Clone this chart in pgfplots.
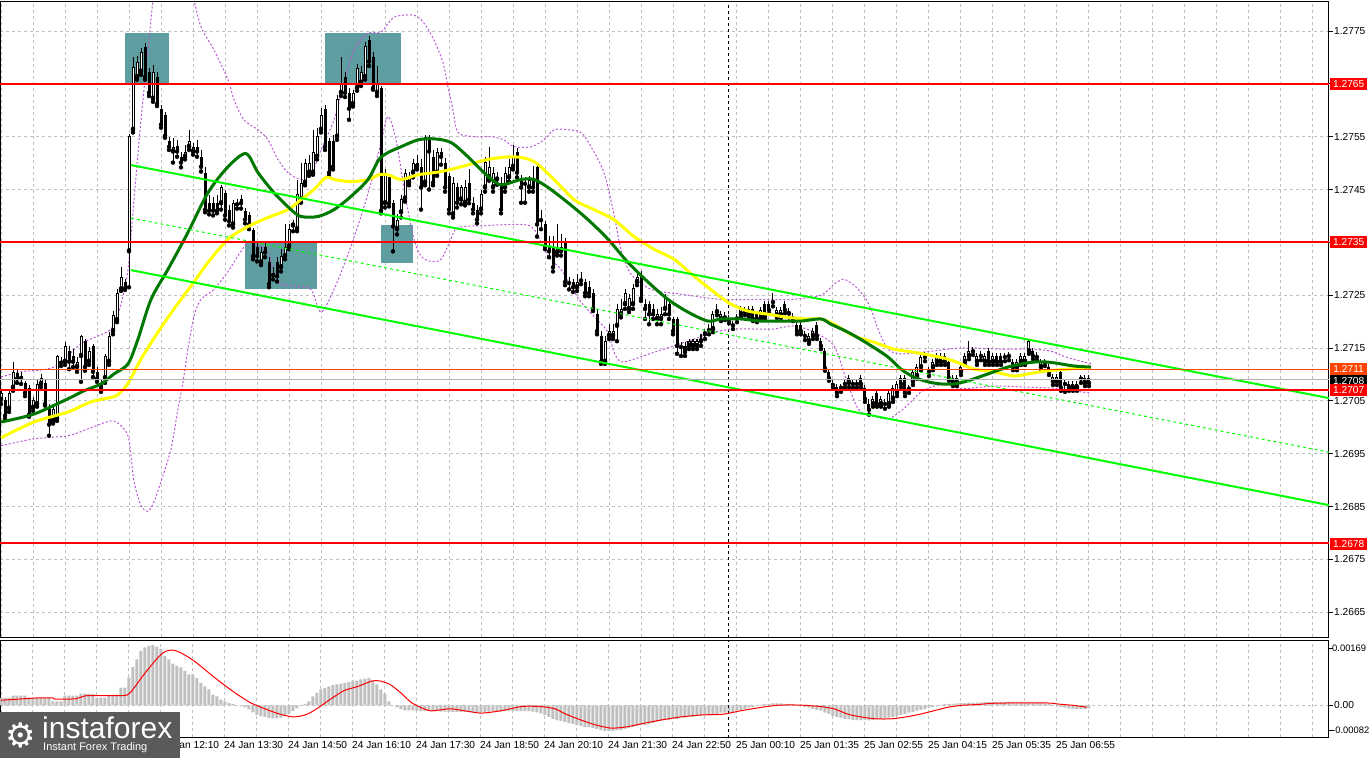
\documentclass[border=0pt]{standalone}
\usepackage{fontspec}
\setmainfont{Liberation Sans}
\newfontfamily\dejavu{DejaVu Sans}
\usepackage{pgfplots}
\usepackage{pgfplotstable}
\pgfplotsset{compat=1.18}
\definecolor{maG}{HTML}{007800}
\definecolor{maY}{HTML}{FFFF00}
\definecolor{chG}{HTML}{00FF00}
\definecolor{bbP}{HTML}{BA55D3}
\definecolor{tealbox}{HTML}{5F9EA0}
\definecolor{gridc}{HTML}{C0C0C0}
\definecolor{orng}{HTML}{FF4500}
\definecolor{histc}{HTML}{C0C0C0}
\definecolor{logog}{HTML}{5A5A5A}

\pgfplotstableread{
i o h l c
0 1.27052 1.27073 1.27044 1.27065
1 1.27052 1.27058 1.27016 1.27022
2 1.27035 1.27073 1.27029 1.27065
3 1.27075 1.27124 1.27069 1.27105
4 1.27103 1.27108 1.27084 1.27092
5 1.27097 1.27105 1.27082 1.27093
6 1.27084 1.27088 1.27059 1.27065
7 1.27075 1.27080 1.27020 1.27024
8 1.27037 1.27058 1.27031 1.27052
9 1.27044 1.27092 1.27039 1.27082
10 1.27082 1.27101 1.27076 1.27093
11 1.27084 1.27092 1.27041 1.27044
12 1.27035 1.27044 1.26984 1.27005
13 1.27012 1.27041 1.27007 1.27035
14 1.27016 1.27137 1.27012 1.27135
15 1.27122 1.27133 1.27116 1.27125
16 1.27124 1.27161 1.27118 1.27154
17 1.27144 1.27154 1.27110 1.27124
18 1.27135 1.27148 1.27114 1.27124
19 1.27114 1.27133 1.27105 1.27124
20 1.27135 1.27175 1.27086 1.27173
21 1.27163 1.27167 1.27107 1.27114
22 1.27124 1.27152 1.27118 1.27144
23 1.27154 1.27158 1.27095 1.27105
24 1.27105 1.27114 1.27086 1.27092
25 1.27084 1.27092 1.27067 1.27075
26 1.27093 1.27139 1.27084 1.27135
27 1.27124 1.27180 1.27118 1.27173
28 1.27182 1.27220 1.27176 1.27212
29 1.27203 1.27261 1.27199 1.27254
30 1.27261 1.27303 1.27258 1.27284
31 1.27275 1.27280 1.27260 1.27263
32 1.27333 1.27556 1.27265 1.27552
33 1.27563 1.27701 1.27558 1.27682
34 1.27663 1.27703 1.27658 1.27692
35 1.27673 1.27718 1.27667 1.27710
36 1.27720 1.27727 1.27658 1.27663
37 1.27673 1.27680 1.27627 1.27633
38 1.27622 1.27686 1.27616 1.27673
39 1.27663 1.27673 1.27608 1.27612
40 1.27603 1.27610 1.27567 1.27573
41 1.27592 1.27597 1.27548 1.27552
42 1.27542 1.27550 1.27525 1.27531
43 1.27522 1.27548 1.27501 1.27531
44 1.27533 1.27544 1.27512 1.27522
45 1.27512 1.27522 1.27492 1.27501
46 1.27512 1.27535 1.27507 1.27522
47 1.27531 1.27563 1.27525 1.27541
48 1.27522 1.27539 1.27516 1.27531
49 1.27531 1.27544 1.27512 1.27522
50 1.27512 1.27525 1.27484 1.27493
51 1.27482 1.27492 1.27407 1.27412
52 1.27424 1.27439 1.27403 1.27410
53 1.27424 1.27435 1.27401 1.27410
54 1.27424 1.27439 1.27405 1.27410
55 1.27424 1.27459 1.27412 1.27454
56 1.27444 1.27450 1.27393 1.27401
57 1.27412 1.27420 1.27382 1.27390
58 1.27384 1.27431 1.27378 1.27424
59 1.27422 1.27433 1.27414 1.27425
60 1.27433 1.27439 1.27414 1.27424
61 1.27410 1.27416 1.27386 1.27393
62 1.27401 1.27408 1.27375 1.27384
63 1.27373 1.27378 1.27318 1.27324
64 1.27342 1.27352 1.27314 1.27324
65 1.27312 1.27342 1.27307 1.27331
66 1.27342 1.27350 1.27322 1.27331
67 1.27312 1.27322 1.27265 1.27271
68 1.27292 1.27303 1.27280 1.27288
69 1.27312 1.27322 1.27276 1.27286
70 1.27303 1.27337 1.27295 1.27324
71 1.27324 1.27384 1.27318 1.27342
72 1.27342 1.27384 1.27337 1.27375
73 1.27382 1.27393 1.27371 1.27386
74 1.27375 1.27469 1.27371 1.27441
75 1.27431 1.27501 1.27425 1.27463
76 1.27463 1.27507 1.27458 1.27501
77 1.27482 1.27516 1.27476 1.27501
78 1.27482 1.27563 1.27478 1.27522
79 1.27512 1.27567 1.27507 1.27552
80 1.27563 1.27605 1.27558 1.27592
81 1.27603 1.27610 1.27525 1.27531
82 1.27541 1.27548 1.27476 1.27482
83 1.27541 1.27554 1.27488 1.27493
84 1.27550 1.27629 1.27544 1.27622
85 1.27633 1.27701 1.27627 1.27652
86 1.27663 1.27673 1.27625 1.27633
87 1.27633 1.27642 1.27582 1.27603
88 1.27612 1.27639 1.27607 1.27633
89 1.27642 1.27688 1.27637 1.27680
90 1.27652 1.27684 1.27646 1.27673
91 1.27663 1.27729 1.27658 1.27722
92 1.27733 1.27741 1.27684 1.27692
93 1.27701 1.27710 1.27639 1.27642
94 1.27633 1.27684 1.27627 1.27652
95 1.27642 1.27646 1.27405 1.27410
96 1.27424 1.27488 1.27416 1.27482
97 1.27473 1.27478 1.27418 1.27424
98 1.27424 1.27431 1.27333 1.27380
99 1.27375 1.27403 1.27365 1.27393
100 1.27407 1.27439 1.27397 1.27433
101 1.27433 1.27488 1.27427 1.27482
102 1.27463 1.27484 1.27458 1.27473
103 1.27482 1.27507 1.27473 1.27501
104 1.27493 1.27516 1.27488 1.27501
105 1.27493 1.27507 1.27412 1.27454
106 1.27463 1.27554 1.27458 1.27550
107 1.27550 1.27554 1.27450 1.27522
108 1.27512 1.27525 1.27458 1.27463
109 1.27482 1.27529 1.27476 1.27522
110 1.27522 1.27529 1.27497 1.27512
111 1.27501 1.27510 1.27446 1.27454
112 1.27475 1.27482 1.27405 1.27412
113 1.27403 1.27473 1.27397 1.27463
114 1.27454 1.27463 1.27416 1.27425
115 1.27431 1.27459 1.27422 1.27454
116 1.27425 1.27469 1.27420 1.27454
117 1.27463 1.27488 1.27424 1.27431
118 1.27425 1.27435 1.27405 1.27412
119 1.27412 1.27420 1.27386 1.27393
120 1.27412 1.27450 1.27405 1.27441
121 1.27454 1.27512 1.27446 1.27503
122 1.27473 1.27531 1.27467 1.27493
123 1.27454 1.27492 1.27446 1.27482
124 1.27469 1.27484 1.27459 1.27473
125 1.27463 1.27473 1.27405 1.27412
126 1.27454 1.27492 1.27446 1.27482
127 1.27473 1.27507 1.27465 1.27493
128 1.27493 1.27535 1.27488 1.27512
129 1.27522 1.27529 1.27473 1.27482
130 1.27469 1.27478 1.27425 1.27454
131 1.27461 1.27473 1.27425 1.27463
132 1.27454 1.27476 1.27446 1.27469
133 1.27469 1.27495 1.27446 1.27454
134 1.27493 1.27501 1.27361 1.27384
135 1.27395 1.27412 1.27375 1.27392
136 1.27384 1.27390 1.27337 1.27342
137 1.27342 1.27363 1.27322 1.27333
138 1.27342 1.27363 1.27295 1.27303
139 1.27331 1.27384 1.27325 1.27342
140 1.27333 1.27365 1.27325 1.27342
141 1.27352 1.27359 1.27269 1.27275
142 1.27275 1.27284 1.27261 1.27273
143 1.27275 1.27280 1.27256 1.27265
144 1.27265 1.27290 1.27258 1.27275
145 1.27278 1.27293 1.27271 1.27280
146 1.27275 1.27280 1.27248 1.27254
147 1.27265 1.27276 1.27248 1.27254
148 1.27254 1.27261 1.27220 1.27224
149 1.27214 1.27224 1.27176 1.27182
150 1.27173 1.27182 1.27120 1.27124
151 1.27124 1.27173 1.27120 1.27163
152 1.27173 1.27195 1.27167 1.27182
153 1.27173 1.27195 1.27167 1.27182
154 1.27192 1.27233 1.27163 1.27224
155 1.27214 1.27242 1.27208 1.27224
156 1.27233 1.27261 1.27224 1.27254
157 1.27224 1.27252 1.27218 1.27244
158 1.27233 1.27271 1.27224 1.27263
159 1.27275 1.27293 1.27269 1.27284
160 1.27284 1.27295 1.27239 1.27244
161 1.27233 1.27242 1.27205 1.27224
162 1.27233 1.27239 1.27195 1.27214
163 1.27224 1.27233 1.27205 1.27214
164 1.27205 1.27224 1.27195 1.27214
165 1.27205 1.27227 1.27195 1.27214
166 1.27224 1.27252 1.27214 1.27244
167 1.27233 1.27242 1.27205 1.27214
168 1.27205 1.27208 1.27176 1.27182
169 1.27205 1.27208 1.27139 1.27154
170 1.27154 1.27161 1.27135 1.27152
171 1.27154 1.27161 1.27135 1.27142
172 1.27154 1.27167 1.27148 1.27163
173 1.27154 1.27167 1.27148 1.27163
174 1.27154 1.27167 1.27148 1.27163
175 1.27163 1.27176 1.27154 1.27167
176 1.27176 1.27186 1.27167 1.27180
177 1.27184 1.27195 1.27176 1.27186
178 1.27186 1.27220 1.27180 1.27214
179 1.27218 1.27233 1.27212 1.27222
180 1.27205 1.27220 1.27201 1.27214
181 1.27208 1.27218 1.27203 1.27210
182 1.27205 1.27212 1.27197 1.27203
183 1.27193 1.27201 1.27186 1.27192
184 1.27206 1.27214 1.27199 1.27208
185 1.27214 1.27230 1.27208 1.27224
186 1.27218 1.27227 1.27212 1.27220
187 1.27224 1.27230 1.27208 1.27214
188 1.27224 1.27230 1.27201 1.27205
189 1.27214 1.27220 1.27199 1.27205
190 1.27208 1.27227 1.27203 1.27222
191 1.27233 1.27239 1.27205 1.27210
192 1.27233 1.27239 1.27216 1.27222
193 1.27237 1.27254 1.27229 1.27239
194 1.27212 1.27227 1.27207 1.27222
195 1.27212 1.27227 1.27207 1.27222
196 1.27233 1.27239 1.27216 1.27222
197 1.27220 1.27226 1.27208 1.27216
198 1.27208 1.27216 1.27201 1.27206
199 1.27193 1.27199 1.27176 1.27182
200 1.27193 1.27199 1.27176 1.27182
201 1.27173 1.27182 1.27165 1.27175
202 1.27163 1.27178 1.27158 1.27173
203 1.27173 1.27188 1.27167 1.27182
204 1.27193 1.27199 1.27167 1.27173
205 1.27163 1.27169 1.27148 1.27154
206 1.27144 1.27150 1.27107 1.27112
207 1.27105 1.27110 1.27088 1.27093
208 1.27084 1.27092 1.27075 1.27080
209 1.27076 1.27082 1.27059 1.27065
210 1.27075 1.27082 1.27067 1.27076
211 1.27082 1.27092 1.27075 1.27084
212 1.27084 1.27099 1.27076 1.27093
213 1.27084 1.27092 1.27075 1.27082
214 1.27082 1.27092 1.27075 1.27084
215 1.27093 1.27099 1.27076 1.27082
216 1.27075 1.27080 1.27048 1.27054
217 1.27044 1.27054 1.27024 1.27033
218 1.27044 1.27059 1.27039 1.27054
219 1.27065 1.27071 1.27039 1.27044
220 1.27044 1.27059 1.27039 1.27054
221 1.27044 1.27054 1.27035 1.27046
222 1.27044 1.27071 1.27039 1.27065
223 1.27054 1.27080 1.27048 1.27075
224 1.27065 1.27088 1.27059 1.27082
225 1.27093 1.27099 1.27076 1.27082
226 1.27093 1.27099 1.27059 1.27065
227 1.27073 1.27080 1.27065 1.27075
228 1.27086 1.27110 1.27080 1.27105
229 1.27097 1.27120 1.27092 1.27114
230 1.27114 1.27139 1.27108 1.27133
231 1.27135 1.27142 1.27125 1.27133
232 1.27107 1.27114 1.27097 1.27105
233 1.27114 1.27129 1.27108 1.27124
234 1.27124 1.27141 1.27118 1.27135
235 1.27135 1.27141 1.27118 1.27124
236 1.27135 1.27141 1.27118 1.27124
237 1.27124 1.27129 1.27088 1.27093
238 1.27084 1.27099 1.27078 1.27093
239 1.27084 1.27099 1.27078 1.27093
240 1.27105 1.27120 1.27099 1.27114
241 1.27124 1.27141 1.27118 1.27135
242 1.27135 1.27163 1.27129 1.27144
243 1.27144 1.27152 1.27137 1.27146
244 1.27124 1.27141 1.27118 1.27135
245 1.27135 1.27144 1.27127 1.27137
246 1.27124 1.27141 1.27118 1.27135
247 1.27144 1.27150 1.27118 1.27124
248 1.27124 1.27141 1.27118 1.27135
249 1.27135 1.27141 1.27118 1.27124
250 1.27135 1.27141 1.27118 1.27124
251 1.27133 1.27141 1.27125 1.27135
252 1.27135 1.27142 1.27127 1.27137
253 1.27124 1.27129 1.27108 1.27114
254 1.27114 1.27129 1.27108 1.27124
255 1.27124 1.27141 1.27118 1.27135
256 1.27124 1.27141 1.27118 1.27135
257 1.27144 1.27167 1.27139 1.27163
258 1.27144 1.27150 1.27129 1.27135
259 1.27135 1.27142 1.27127 1.27133
260 1.27114 1.27129 1.27108 1.27124
261 1.27122 1.27129 1.27116 1.27124
262 1.27114 1.27120 1.27099 1.27105
263 1.27086 1.27101 1.27080 1.27095
264 1.27086 1.27101 1.27080 1.27095
265 1.27105 1.27110 1.27069 1.27075
266 1.27082 1.27090 1.27067 1.27084
267 1.27075 1.27088 1.27069 1.27082
268 1.27075 1.27088 1.27069 1.27082
269 1.27075 1.27088 1.27069 1.27082
270 1.27092 1.27099 1.27084 1.27093
271 1.27084 1.27099 1.27078 1.27093
272 1.27093 1.27099 1.27078 1.27084
}\candles

\pgfplotstableread{
i m
0 0.00019
1 0.00019
2 0.00019
3 0.00025
4 0.00025
5 0.00025
6 0.00025
7 0.00020
8 0.00020
9 0.00020
10 0.00020
11 0.00020
12 0.00020
13 0.00010
14 0.00010
15 0.00010
16 0.00025
17 0.00025
18 0.00025
19 0.00025
20 0.00030
21 0.00030
22 0.00030
23 0.00030
24 0.00020
25 0.00020
26 0.00020
27 0.00025
28 0.00028
29 0.00028
30 0.00046
31 0.00046
32 0.00072
33 0.00099
34 0.00119
35 0.00141
36 0.00150
37 0.00154
38 0.00156
39 0.00152
40 0.00146
41 0.00128
42 0.00119
43 0.00108
44 0.00102
45 0.00098
46 0.00089
47 0.00080
48 0.00080
49 0.00071
50 0.00058
51 0.00049
52 0.00041
53 0.00028
54 0.00023
55 0.00015
56 0.00010
57 0.00006
58 0.00003
59 0.00000
60 -0.00002
61 -0.00005
62 -0.00010
63 -0.00018
64 -0.00025
65 -0.00028
66 -0.00030
67 -0.00033
68 -0.00034
69 -0.00034
70 -0.00032
71 -0.00028
72 -0.00022
73 -0.00015
74 -0.00008
75 -0.00002
76 0.00004
77 0.00010
78 0.00023
79 0.00032
80 0.00041
81 0.00045
82 0.00049
83 0.00052
84 0.00054
85 0.00056
86 0.00058
87 0.00060
88 0.00063
89 0.00064
90 0.00067
91 0.00069
92 0.00071
93 0.00063
94 0.00054
95 0.00041
96 0.00030
97 0.00010
98 0.00000
99 -0.00005
100 -0.00010
101 -0.00013
102 -0.00013
103 -0.00013
104 -0.00014
105 -0.00015
106 -0.00015
107 -0.00015
108 -0.00015
109 -0.00015
110 -0.00016
111 -0.00016
112 -0.00017
113 -0.00017
114 -0.00017
115 -0.00017
116 -0.00017
117 -0.00017
118 -0.00017
119 -0.00018
120 -0.00018
121 -0.00017
122 -0.00016
123 -0.00016
124 -0.00016
125 -0.00016
126 -0.00015
127 -0.00015
128 -0.00015
129 -0.00015
130 -0.00015
131 -0.00015
132 -0.00015
133 -0.00016
134 -0.00018
135 -0.00021
136 -0.00025
137 -0.00030
138 -0.00035
139 -0.00038
140 -0.00040
141 -0.00043
142 -0.00046
143 -0.00048
144 -0.00051
145 -0.00053
146 -0.00056
147 -0.00056
148 -0.00059
149 -0.00061
150 -0.00064
151 -0.00066
152 -0.00066
153 -0.00066
154 -0.00064
155 -0.00064
156 -0.00061
157 -0.00059
158 -0.00056
159 -0.00053
160 -0.00051
161 -0.00051
162 -0.00048
163 -0.00046
164 -0.00043
165 -0.00040
166 -0.00038
167 -0.00038
168 -0.00035
169 -0.00035
170 -0.00032
171 -0.00032
172 -0.00030
173 -0.00030
174 -0.00027
175 -0.00027
176 -0.00025
177 -0.00025
178 -0.00022
179 -0.00022
180 -0.00019
181 -0.00019
182 -0.00017
183 -0.00017
184 -0.00014
185 -0.00012
186 -0.00009
187 -0.00006
188 -0.00004
189 -0.00001
190 0.00002
191 0.00003
192 0.00004
193 0.00005
194 0.00005
195 0.00005
196 0.00004
197 0.00003
198 0.00002
199 0.00000
200 -0.00001
201 -0.00004
202 -0.00006
203 -0.00009
204 -0.00012
205 -0.00014
206 -0.00019
207 -0.00022
208 -0.00027
209 -0.00030
210 -0.00032
211 -0.00035
212 -0.00036
213 -0.00038
214 -0.00038
215 -0.00038
216 -0.00038
217 -0.00039
218 -0.00038
219 -0.00036
220 -0.00035
221 -0.00034
222 -0.00032
223 -0.00030
224 -0.00027
225 -0.00025
226 -0.00022
227 -0.00019
228 -0.00017
229 -0.00014
230 -0.00012
231 -0.00009
232 -0.00006
233 -0.00004
234 -0.00001
235 0.00002
236 0.00003
237 0.00003
238 0.00004
239 0.00005
240 0.00006
241 0.00006
242 0.00007
243 0.00007
244 0.00007
245 0.00007
246 0.00008
247 0.00008
248 0.00008
249 0.00008
250 0.00008
251 0.00008
252 0.00008
253 0.00007
254 0.00007
255 0.00007
256 0.00007
257 0.00007
258 0.00006
259 0.00006
260 0.00006
261 0.00005
262 0.00004
263 0.00002
264 -0.00001
265 -0.00004
266 -0.00006
267 -0.00008
268 -0.00009
269 -0.00009
270 -0.00009
271 -0.00009
272 -0.00008
}\macdhist

\begin{document}
\begin{tikzpicture}[font=\fontsize{10.2}{12}\selectfont]
\useasboundingbox (0,0) rectangle (1370pt,-758pt);
\begin{axis}[
  at={(0pt,-2pt)}, anchor=north west,
  scale only axis, width=1329pt, height=635pt,
  xmin=-0.25, xmax=332, ymin=1.26603, ymax=1.27805,
  clip mode=individual,
  axis line style={black, line width=1pt},
  xtick={0,8,...,328}, xticklabels={}, xtick style={draw=none},
  ytick={1.2665,1.2675,1.2685,1.2695,1.2705,1.2715,1.2725,1.2735,1.2745,1.2755,1.2765,1.2775},
  yticklabels={1.2665,1.2675,1.2685,1.2695,1.2705,1.2715,1.2725,1.2735,1.2745,1.2755,1.2765,1.2775},
  ytick pos=right, yticklabel pos=right,
  tick align=outside, major tick length=4pt,
  ytick style={black, line width=0.8pt},
  tick label style={font=\fontsize{10.2}{12}\selectfont, inner sep=1pt},
  xmajorgrids, ymajorgrids,
  grid style={gridc, dash pattern=on 3pt off 3pt, line width=1pt},
  scaled y ticks=false,
]
% teal zones
\addplot[fill=tealbox, draw=none, forget plot] coordinates {(31.0,1.27746) (42.0,1.27746) (42.0,1.27652) (31.0,1.27652)} -- cycle;
\addplot[fill=tealbox, draw=none, forget plot] coordinates {(81.0,1.27746) (100.0,1.27746) (100.0,1.27652) (81.0,1.27652)} -- cycle;
\addplot[fill=tealbox, draw=none, forget plot] coordinates {(61.0,1.27352) (79.0,1.27352) (79.0,1.27262) (61.0,1.27262)} -- cycle;
\addplot[fill=tealbox, draw=none, forget plot] coordinates {(95.0,1.27383) (103.0,1.27383) (103.0,1.27311) (95.0,1.27311)} -- cycle;
% separator
\addplot[black, dash pattern=on 3pt off 3pt, line width=1pt, forget plot] coordinates {(182,1.26) (182,1.28)};
% bollinger-like bands
\addplot[bbP, dash pattern=on 2pt off 2pt, line width=1pt, smooth, tension=0.5, forget plot] coordinates {
(0,1.27095) (5,1.27105) (13.25,1.27114) (20,1.27158) (27.5,1.27186) (30,1.27233) (31.75,1.27299) (33.25,1.27431) (35,1.27582) (37,1.27733) (38,1.27808) (40,1.27920) (43.75,1.27920) (47.5,1.27830) (48.25,1.27808)
(50,1.27758) (53.25,1.27714) (56.75,1.27658) (58.25,1.27620) (60.75,1.27582) (64.25,1.27563) (66.75,1.27544) (69.25,1.27507) (71.75,1.27482) (75,1.27469) (77.5,1.27478) (80,1.27525) (83.25,1.27582) (85.75,1.27652) (88.25,1.27714) (91.75,1.27746) (95,1.27748) (98.25,1.27776) (103.25,1.27780) (105.75,1.27765) (108.25,1.27733) (110.5,1.27690) (111.75,1.27644) (113,1.27601) (114.25,1.27558) (118.25,1.27550) (122.5,1.27550) (125.75,1.27544) (128.25,1.27531) (132.5,1.27531) (135.75,1.27544) (138.25,1.27563) (141.75,1.27563) (145,1.27558) (147.5,1.27531) (150.75,1.27482) (153.25,1.27403) (155,1.27337) (157.5,1.27290) (162.5,1.27261) (170,1.27252) (180,1.27242) (190,1.27242) (197.5,1.27242) (205,1.27250) (208.25,1.27271) (210.75,1.27280) (213.25,1.27269) (215.75,1.27248) (217.5,1.27224) (219.25,1.27186) (221.75,1.27148) (225,1.27139) (232.5,1.27144) (240,1.27150) (250,1.27148) (257.5,1.27148) (262.5,1.27144) (266.25,1.27133) (272.5,1.27120)};
\addplot[bbP, dash pattern=on 2pt off 2pt, line width=1pt, smooth, tension=0.5, forget plot] coordinates {
(0,1.26965) (8.25,1.26978) (16.75,1.26984) (21.75,1.26997) (27.5,1.27012) (30,1.27003) (31.75,1.26984) (32.5,1.26946) (33.25,1.26897) (35,1.26852) (36.75,1.26841) (38.25,1.26859) (40,1.26897) (42.5,1.26959) (44.25,1.27035) (45.5,1.27086) (46.75,1.27148) (48.25,1.27210) (50,1.27242) (53.25,1.27261) (56.75,1.27295) (60,1.27333) (61.75,1.27350) (64.25,1.27344) (66.75,1.27331) (69.25,1.27275) (73.25,1.27267) (77.5,1.27261) (80,1.27218) (83.25,1.27261) (86.75,1.27327) (90,1.27399) (92.5,1.27463) (95,1.27539) (96.75,1.27588) (98.75,1.27544) (101.25,1.27431) (103.25,1.27356) (105,1.27324) (107.5,1.27314) (110,1.27318) (112.5,1.27356) (114.25,1.27378) (121.75,1.27382) (130,1.27384) (133.25,1.27375) (136.75,1.27324) (140,1.27299) (142.5,1.27267) (145,1.27237) (148.25,1.27210) (151.75,1.27180) (153.25,1.27142) (155,1.27124) (158.25,1.27129) (163.25,1.27142) (168.25,1.27154) (173.25,1.27167) (178.25,1.27180) (183.25,1.27186) (188.25,1.27186) (193.25,1.27186) (198.25,1.27192) (203.25,1.27180) (208.25,1.27154) (211.25,1.27092) (214.25,1.27035) (217.5,1.27022) (221.75,1.27016) (225,1.27031) (227.5,1.27048) (230,1.27067) (233.25,1.27078) (236.75,1.27082) (240,1.27073) (248.25,1.27078) (256.75,1.27076) (265,1.27073) (270,1.27067) (272.5,1.27065)};
% candles: wicks
\addplot[only marks, mark=none, forget plot, error bars/.cd, y dir=plus, y explicit, error mark=none, error bar style={draw=black, line width=1pt, solid}]
  table[x=i, y=l, y error expr=\thisrow{h}-\thisrow{l}] {\candles};
% bodies
\addplot[only marks, mark=none, forget plot, error bars/.cd, y dir=plus, y explicit, error mark=none, error bar style={draw=black, line width=3pt, solid}]
  table[x=i, y expr={min(\thisrow{o},\thisrow{c})}, y error expr={max(abs(\thisrow{c}-\thisrow{o}),0.00002)}] {\candles};
% bullish interior
\addplot[only marks, mark=none, forget plot, restrict expr to domain={\thisrow{c}-\thisrow{o}}{0.00004:1}, error bars/.cd, y dir=plus, y explicit, error mark=none, error bar style={draw=white, line width=1pt, solid}]
  table[x=i, y expr=\thisrow{o}+0.000019, y error expr=\thisrow{c}-\thisrow{o}-0.000038] {\candles};
% moving averages
\addplot[maY, line width=3pt, smooth, tension=0.5, forget plot] coordinates {
(0,1.26980) (8.25,1.27010) (16.75,1.27029) (22.5,1.27048) (28.25,1.27058) (30,1.27067) (32,1.27086) (35,1.27129) (39.25,1.27180) (43.25,1.27224) (48.25,1.27275) (51.75,1.27312) (56.75,1.27356) (61.75,1.27380) (66.75,1.27397) (71.75,1.27412) (75,1.27431) (78.25,1.27450) (81.25,1.27473) (83.25,1.27469) (87.5,1.27465) (91.75,1.27469) (94.5,1.27478) (96.75,1.27478) (100,1.27469) (104.25,1.27478) (110,1.27484) (115,1.27493) (121.75,1.27507) (128.25,1.27512) (133.25,1.27503) (138.25,1.27469) (143.25,1.27431) (148.25,1.27412) (153.25,1.27393) (158.25,1.27361) (163.25,1.27337) (168.25,1.27318) (173.25,1.27286) (178.25,1.27256) (182.5,1.27233) (186.75,1.27220) (191.75,1.27214) (196.75,1.27208) (201.75,1.27205) (205,1.27205) (208.25,1.27195) (213.25,1.27173) (218.25,1.27161) (223.25,1.27148) (228.25,1.27142) (233.25,1.27135) (236.75,1.27129) (240,1.27120) (243.25,1.27110) (248.25,1.27105) (253.25,1.27097) (256.75,1.27101) (261.75,1.27107) (266.75,1.27110) (272.5,1.27114)};
\addplot[maG, line width=3pt, smooth, tension=0.5, forget plot] coordinates {
(0,1.27010) (8.25,1.27025) (16.75,1.27054) (20.75,1.27069) (25,1.27082) (28.25,1.27101) (31.75,1.27120) (34.25,1.27167) (37.5,1.27242) (41.75,1.27299) (46.75,1.27369) (51.75,1.27444) (56.75,1.27493) (61.25,1.27518) (64.25,1.27482) (68.25,1.27444) (72.5,1.27412) (75,1.27399) (79.25,1.27399) (83.25,1.27412) (87.5,1.27437) (91.75,1.27469) (94.5,1.27507) (96.75,1.27520) (100,1.27531) (104.25,1.27544) (108.25,1.27546) (112.5,1.27539) (116.75,1.27512) (121.75,1.27475) (125,1.27459) (130,1.27469) (133.25,1.27469) (136.75,1.27454) (141.75,1.27425) (146.75,1.27393) (151.75,1.27356) (156.75,1.27312) (161.75,1.27275) (166.75,1.27242) (171.75,1.27218) (176.75,1.27201) (180,1.27205) (185,1.27205) (190,1.27201) (195,1.27201) (200,1.27201) (205,1.27205) (207.5,1.27195) (211.75,1.27180) (216.75,1.27158) (221.75,1.27133) (225,1.27110) (228.25,1.27095) (231.75,1.27086) (235,1.27082) (238.25,1.27082) (241.75,1.27088) (246.75,1.27101) (251.75,1.27114) (256.75,1.27122) (260,1.27124) (263.25,1.27122) (268.25,1.27116) (272.5,1.27114)};
% channel
\addplot[chG, line width=2pt, forget plot] coordinates {(32.5,1.274963) (332,1.270552)};
\addplot[chG, line width=2pt, forget plot] coordinates {(32.5,1.272975) (332,1.268526)};
\addplot[chG, line width=1pt, dash pattern=on 3pt off 3pt, forget plot] coordinates {(32.5,1.273960) (332,1.269529)};
% horizontal levels
\addplot[gray!60, line width=1pt, forget plot] coordinates {(-1,1.27090) (340,1.27090)};
\addplot[orng, line width=1pt, forget plot] coordinates {(-1,1.2711) (340,1.2711)};
\addplot[red, line width=2pt, forget plot] coordinates {(-1,1.2765) (340,1.2765)};
\addplot[red, line width=2pt, forget plot] coordinates {(-1,1.2735) (340,1.2735)};
\addplot[red, line width=2pt, forget plot] coordinates {(-1,1.2707) (340,1.2707)};
\addplot[red, line width=2pt, forget plot] coordinates {(-1,1.2678) (340,1.2678)};
\coordinate (t1) at (axis cs:332,1.2765);
\coordinate (t2) at (axis cs:332,1.2735);
\coordinate (t3) at (axis cs:332,1.2707);
\coordinate (t4) at (axis cs:332,1.2678);
\coordinate (t5) at (axis cs:332,1.2711);
\coordinate (t6) at (axis cs:332,1.27087);
\end{axis}

\begin{axis}[
  at={(0pt,-640pt)}, anchor=north west,
  scale only axis, width=1329pt, height=97pt,
  xmin=-0.25, xmax=332, ymin=-0.00082, ymax=0.00169,
  clip mode=individual,
  axis line style={black, line width=1pt},
  xtick={0,8,...,328}, xticklabels={}, xtick style={draw=none},
  extra x ticks={40,56,...,264},
  extra x tick labels={24 Jan 12:10,24 Jan 13:30,24 Jan 14:50,24 Jan 16:10,24 Jan 17:30,24 Jan 18:50,24 Jan 20:10,24 Jan 21:30,24 Jan 22:50,25 Jan 00:10,25 Jan 01:35,25 Jan 02:55,25 Jan 04:15,25 Jan 05:35,25 Jan 06:55},
  extra x tick style={grid=none, tick style={draw=none}, xticklabel style={anchor=north west, xshift=-2pt, yshift=1pt}},
  ytick={0}, yticklabels={0.00},
  extra y ticks={-0.00064,0.00148},
  extra y tick labels={-0.00082,0.00169},
  extra y tick style={grid=none, yticklabel style={font=\fontsize{9.4}{11}\selectfont, xshift=-2pt}},
  ytick pos=right, yticklabel pos=right,
  tick align=outside, major tick length=4pt,
  ytick style={black, line width=0.8pt},
  tick label style={font=\fontsize{10.2}{12}\selectfont, inner sep=1pt},
  xmajorgrids, ymajorgrids,
  grid style={gridc, dash pattern=on 3pt off 3pt, line width=1pt},
  scaled y ticks=false,
]
\addplot[ybar, bar width=3pt, fill=histc, draw=none, forget plot] table[x=i, y=m] {\macdhist};
\addplot[black, dash pattern=on 3pt off 3pt, line width=1pt, forget plot] coordinates {(182,-0.001) (182,0.002)};
\addplot[red, line width=1pt, smooth, tension=0.4, forget plot] coordinates {
(0,0.00013) (9,0.00019) (13,0.00019) (13.5,0.00016) (18.75,0.00017) (21.5,0.00025) (30.25,0.00025) (32.25,0.00032) (35.75,0.00080) (39.25,0.00124) (41,0.00139) (42.75,0.00143) (44.75,0.00137) (48.25,0.00115) (53.5,0.00071) (58,0.00036) (62.5,0.00006) (67.75,-0.00016) (70.5,-0.00025) (73.25,-0.00030) (76,-0.00025) (78.5,-0.00012) (82.25,0.00015) (85.75,0.00038) (89.25,0.00049) (92.75,0.00063) (94.75,0.00063) (97.25,0.00054) (100,0.00032) (102.75,0.00006) (107.25,-0.00014) (112.5,-0.00009) (119.75,-0.00020) (125,-0.00014) (130.25,-0.00003) (134.75,-0.00003) (138.5,-0.00009) (141.25,-0.00023) (145,-0.00038) (148.75,-0.00051) (152.5,-0.00059) (156.25,-0.00056) (160,-0.00048) (165,-0.00038) (170,-0.00030) (175,-0.00025) (180.5,-0.00023) (185,-0.00014) (190.25,-0.00005) (194,0.00000) (197.5,0.00001) (201,0.00000) (204.75,-0.00003) (208.25,-0.00009) (211.75,-0.00023) (215,-0.00030) (218.75,-0.00035) (222.5,-0.00035) (226.25,-0.00030) (229.75,-0.00023) (233.25,-0.00014) (236.75,-0.00005) (240.25,0.00000) (244,0.00002) (247.5,0.00005) (251,0.00006) (261.75,0.00006) (264.5,0.00003) (268,0.00000) (271.5,-0.00005)};
\end{axis}

% price tags
\node[fill=black, text=white, anchor=west, inner sep=1pt, minimum width=37pt, minimum height=12pt] at ([xshift=1pt]t6) {1.2708};
\node[fill=orng, text=white, anchor=west, inner sep=1pt, minimum width=37pt, minimum height=12pt] at ([xshift=1pt]t5) {1.2711};
\node[fill=red, text=white, anchor=west, inner sep=1pt, minimum width=37pt, minimum height=12pt] at ([xshift=1pt]t1) {1.2765};
\node[fill=red, text=white, anchor=west, inner sep=1pt, minimum width=37pt, minimum height=12pt] at ([xshift=1pt]t2) {1.2735};
\node[fill=red, text=white, anchor=west, inner sep=1pt, minimum width=37pt, minimum height=12pt] at ([xshift=1pt]t3) {1.2707};
\node[fill=red, text=white, anchor=west, inner sep=1pt, minimum width=37pt, minimum height=12pt] at ([xshift=1pt]t4) {1.2678};

% logo
\fill[logog] (0pt,-712pt) rectangle (180pt,-758pt);
\node[anchor=west, text=white, inner sep=0pt, font=\fontsize{30}{30}\selectfont] at (42pt,-728pt) {instaforex};
\node[anchor=west, text=white, inner sep=0pt, font=\fontsize{11}{12}\selectfont] at (43pt,-748pt) {Instant Forex Trading};
\node[text=white, inner sep=0pt, font=\dejavu\fontsize{34}{34}\selectfont] at (21pt,-735pt) {⚙};
\end{tikzpicture}
\end{document}
